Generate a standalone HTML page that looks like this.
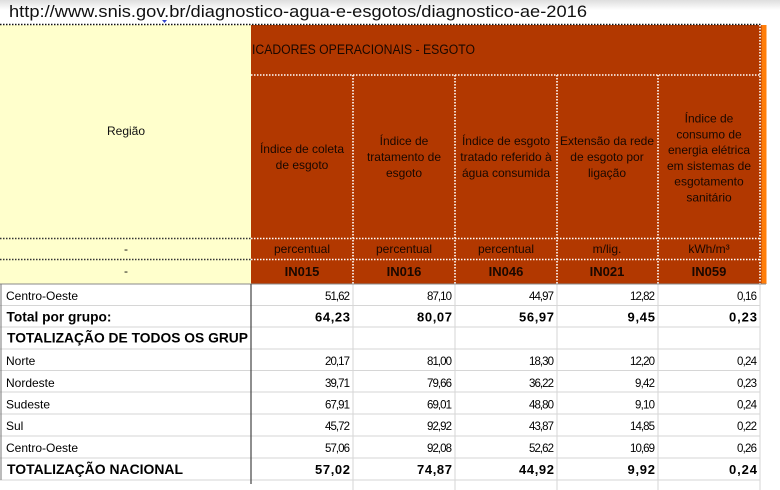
<!DOCTYPE html>
<html><head><meta charset="utf-8"><style>
html,body{margin:0;padding:0;background:#fff;}
svg{display:block;}
text{font-family:"Liberation Sans",Arial,sans-serif;}
</style></head><body>
<svg width="780" height="490" viewBox="0 0 780 490" xmlns="http://www.w3.org/2000/svg">
<defs>
<linearGradient id="tg" x1="0" y1="0" x2="0" y2="1">
<stop offset="0" stop-color="#dedede"/><stop offset="1" stop-color="#ffffff"/>
</linearGradient>
<clipPath id="lc"><rect x="0" y="284" width="251" height="206"/></clipPath>
</defs>
<rect x="0" y="0" width="780" height="490" fill="#fff"/>
<rect x="0" y="0" width="780" height="10" fill="url(#tg)"/>
<text x="9" y="17" font-size="16.5" fill="#111" textLength="578" lengthAdjust="spacingAndGlyphs">http://www.snis.gov.br/diagnostico-agua-e-esgotos/diagnostico-ae-2016</text>

<!-- header backgrounds -->
<rect x="0" y="25" width="251" height="259" fill="#ffffcc"/>
<rect x="251" y="25" width="510.5" height="259" fill="#b23800"/>
<rect x="761.5" y="25" width="5" height="259" fill="#ff7e0a"/>
<path d="M162 20 L167 20 L164.5 23 Z" fill="#3344cc"/>

<!-- dotted lines -->
<line x1="0" y1="24.5" x2="762" y2="24.5" stroke="#111" stroke-width="1.6" stroke-dasharray="1.5 1.5"/>
<line x1="251" y1="75" x2="760" y2="75" stroke="#fff" stroke-width="1.6" stroke-dasharray="1.5 1.5"/>
<g stroke="#fff" stroke-width="1.6" stroke-dasharray="1.5 1.5">
<line x1="353" y1="75" x2="353" y2="284"/>
<line x1="455" y1="75" x2="455" y2="284"/>
<line x1="557" y1="75" x2="557" y2="284"/>
<line x1="658" y1="75" x2="658" y2="284"/>
<line x1="760" y1="25" x2="760" y2="284"/>
<line x1="251" y1="238.5" x2="760" y2="238.5"/>
<line x1="251" y1="259.5" x2="760" y2="259.5"/>
</g>
<g stroke="#333" stroke-width="1.4" stroke-dasharray="1.5 1.5">
<line x1="0" y1="238.5" x2="251" y2="238.5"/>
<line x1="0" y1="259.5" x2="251" y2="259.5"/>
</g>

<!-- header text -->
<text x="252" y="54" font-size="13.5" fill="#1a0800" textLength="223" lengthAdjust="spacingAndGlyphs">ICADORES OPERACIONAIS - ESGOTO</text>
<text x="126" y="135" font-size="12" fill="#111" text-anchor="middle">Região</text>
<text x="126" y="253" font-size="12" fill="#111" text-anchor="middle">-</text>
<text x="126" y="275" font-size="12" fill="#111" text-anchor="middle">-</text>

<g font-size="12" fill="#1a0800" text-anchor="middle">
<text x="302" y="153.1">Índice de coleta</text>
<text x="302" y="168.9">de esgoto</text>
<text x="404" y="145.2">Índice de</text>
<text x="404" y="161">tratamento de</text>
<text x="404" y="176.8">esgoto</text>
<text x="506" y="145.2">Índice de esgoto</text>
<text x="506" y="161">tratado referido à</text>
<text x="506" y="176.8">água consumida</text>
<text x="607" y="145.2">Extensão da rede</text>
<text x="607" y="161">de esgoto por</text>
<text x="607" y="176.8">ligação</text>
<text x="709" y="122.5">Índice de</text>
<text x="709" y="138.3">consumo de</text>
<text x="709" y="154.1">energia elétrica</text>
<text x="709" y="169.9">em sistemas de</text>
<text x="709" y="185.7">esgotamento</text>
<text x="709" y="201.5">sanitário</text>
<text x="302" y="253">percentual</text>
<text x="404" y="253">percentual</text>
<text x="506" y="253">percentual</text>
<text x="607" y="253">m/lig.</text>
<text x="709" y="253">kWh/m³</text>
</g>
<g font-size="13" font-weight="bold" fill="#1a0800" text-anchor="middle">
<text x="302" y="276">IN015</text>
<text x="404" y="276">IN016</text>
<text x="506" y="276">IN046</text>
<text x="607" y="276">IN021</text>
<text x="709" y="276">IN059</text>
</g>

<!-- data grid -->
<g stroke="#d6d6d6" stroke-width="1">
<line x1="0" y1="305.5" x2="760" y2="305.5"/>
<line x1="0" y1="327" x2="760" y2="327"/>
<line x1="0" y1="349" x2="760" y2="349"/>
<line x1="0" y1="370.5" x2="760" y2="370.5"/>
<line x1="0" y1="392" x2="760" y2="392"/>
<line x1="0" y1="414" x2="760" y2="414"/>
<line x1="0" y1="436" x2="760" y2="436"/>
<line x1="0" y1="458" x2="760" y2="458"/>
<line x1="0" y1="480" x2="760" y2="480"/>
<line x1="353" y1="284" x2="353" y2="490"/>
<line x1="455" y1="284" x2="455" y2="490"/>
<line x1="557" y1="284" x2="557" y2="490"/>
<line x1="658" y1="284" x2="658" y2="490"/>
<line x1="760" y1="284" x2="760" y2="490"/>
</g>
<line x1="0" y1="284" x2="766" y2="284" stroke="#8a8a8a" stroke-width="1"/>
<line x1="251" y1="284" x2="251" y2="484" stroke="#444" stroke-width="1.2"/>
<line x1="1" y1="284" x2="1" y2="480" stroke="#777" stroke-width="1"/>

<!-- left labels -->
<g clip-path="url(#lc)" fill="#000">
<text x="6" y="300" font-size="12">Centro-Oeste</text>
<text x="6.5" y="321.5" font-size="13.5" font-weight="bold" textLength="105" lengthAdjust="spacingAndGlyphs">Total por grupo:</text>
<text x="7" y="342.5" font-size="14" font-weight="bold" textLength="241" lengthAdjust="spacingAndGlyphs">TOTALIZAÇÃO DE TODOS OS GRUP</text>
<text x="6" y="365" font-size="12">Norte</text>
<text x="6" y="387" font-size="12">Nordeste</text>
<text x="6" y="408.5" font-size="12">Sudeste</text>
<text x="6" y="430" font-size="12">Sul</text>
<text x="6" y="452" font-size="12">Centro-Oeste</text>
<text x="7" y="474" font-size="14" font-weight="bold" textLength="176" lengthAdjust="spacingAndGlyphs">TOTALIZAÇÃO NACIONAL</text>
</g>

<!-- numbers regular -->
<g font-size="11.5" fill="#000" lengthAdjust="spacingAndGlyphs">
<text x="325" y="300" textLength="25">51,62</text>
<text x="427" y="300" textLength="25">87,10</text>
<text x="529" y="300" textLength="25">44,97</text>
<text x="630" y="300" textLength="25">12,82</text>
<text x="737" y="300" textLength="20">0,16</text>

<text x="325" y="365" textLength="25">20,17</text>
<text x="427" y="365" textLength="25">81,00</text>
<text x="529" y="365" textLength="25">18,30</text>
<text x="630" y="365" textLength="25">12,20</text>
<text x="737" y="365" textLength="20">0,24</text>

<text x="325" y="387" textLength="25">39,71</text>
<text x="427" y="387" textLength="25">79,66</text>
<text x="529" y="387" textLength="25">36,22</text>
<text x="635" y="387" textLength="20">9,42</text>
<text x="737" y="387" textLength="20">0,23</text>

<text x="325" y="408.5" textLength="25">67,91</text>
<text x="427" y="408.5" textLength="25">69,01</text>
<text x="529" y="408.5" textLength="25">48,80</text>
<text x="635" y="408.5" textLength="20">9,10</text>
<text x="737" y="408.5" textLength="20">0,24</text>

<text x="325" y="430" textLength="25">45,72</text>
<text x="427" y="430" textLength="25">92,92</text>
<text x="529" y="430" textLength="25">43,87</text>
<text x="630" y="430" textLength="25">14,85</text>
<text x="737" y="430" textLength="20">0,22</text>

<text x="325" y="452" textLength="25">57,06</text>
<text x="427" y="452" textLength="25">92,08</text>
<text x="529" y="452" textLength="25">52,62</text>
<text x="630" y="452" textLength="25">10,69</text>
<text x="737" y="452" textLength="20">0,26</text>
</g>

<!-- numbers bold -->
<g font-size="13" font-weight="bold" fill="#000" lengthAdjust="spacingAndGlyphs">
<text x="315" y="321.5" textLength="35">64,23</text>
<text x="417" y="321.5" textLength="35">80,07</text>
<text x="519" y="321.5" textLength="35">56,97</text>
<text x="627.5" y="321.5" textLength="27.5">9,45</text>
<text x="729" y="321.5" textLength="28">0,23</text>

<text x="315" y="474" textLength="35">57,02</text>
<text x="417" y="474" textLength="35">74,87</text>
<text x="519" y="474" textLength="35">44,92</text>
<text x="627.5" y="474" textLength="27.5">9,92</text>
<text x="729" y="474" textLength="28">0,24</text>
</g>
</svg>
</body></html>
